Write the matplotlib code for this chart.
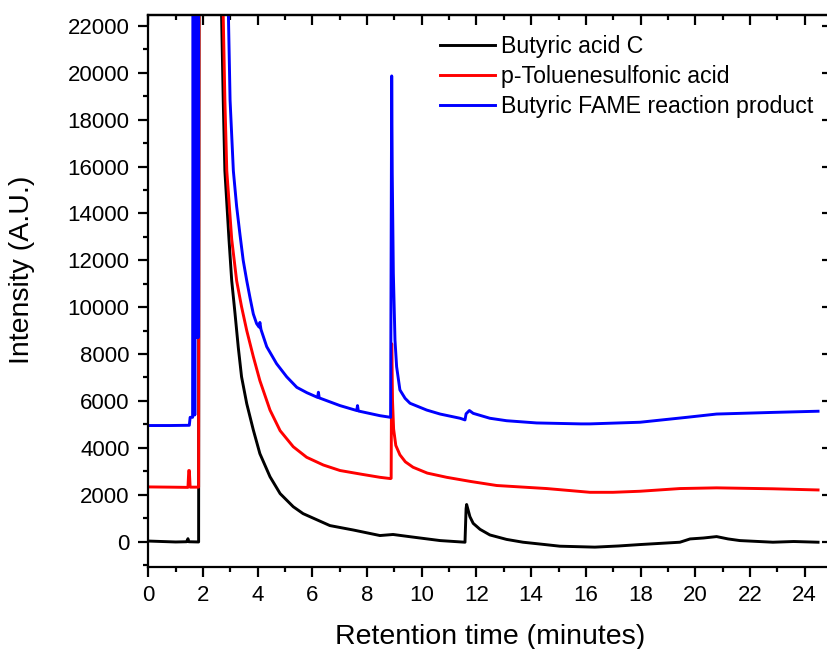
import matplotlib
matplotlib.use("Agg")
import matplotlib.pyplot as plt
from matplotlib.ticker import MultipleLocator

plt.rcParams['font.family'] = ['Liberation Sans', 'DejaVu Sans']

# ---- data ----
OFF = 30000  # off-scale (detector saturation region)

black_x = [0.0, 0.5, 1.0, 1.40, 1.45, 1.48, 1.84, 1.86, 2.55, 2.68, 2.74, 2.80, 2.95, 3.05,
           3.17, 3.29, 3.41, 3.60, 3.84, 4.08, 4.45, 4.82, 5.30, 5.66, 6.64, 7.50, 8.47,
           8.95, 9.6, 10.67, 11.58, 11.62, 11.64, 11.76, 11.88, 12.13, 12.49, 13.10, 13.70,
           14.50, 15.05, 16.33, 17.20, 17.98, 19.00, 19.44, 19.81, 20.30, 20.78, 21.20,
           21.63, 22.84, 23.60, 24.49]
black_y = [20, 0, -20, -10, 120, -10, -20, OFF, OFF, 22430, 18840, 15820, 12900, 11130,
           9740, 8285, 7030, 5880, 4760, 3750, 2765, 2045, 1485, 1190, 680, 490, 255,
           300, 200, 40, -30, 1400, 1580, 1060, 775, 520, 280, 90, -30,
           -130, -200, -240, -190, -130, -60, -30, 110, 150, 210, 110,
           40, -30, 0, -30]

red_x = [0.0, 0.8, 1.45, 1.48, 1.50, 1.53, 1.84, 1.86, 2.62, 2.74, 2.80, 2.87, 3.05, 3.23,
         3.41, 3.60, 3.84, 4.08, 4.45, 4.82, 5.30, 5.79, 6.40, 7.01, 7.80, 8.47, 8.86,
         8.88, 8.90, 8.93, 8.97, 9.05, 9.20, 9.40, 9.68, 10.20, 10.91, 11.80, 12.74,
         14.57, 16.15, 16.99, 17.98, 19.44, 20.78, 22.84, 24.49]
red_y = [2330, 2320, 2310, 3030, 3030, 2320, 2320, OFF, OFF, 22430, 18840, 15820, 12900, 11130,
         10020, 9000, 7890, 6865, 5610, 4730, 4045, 3595, 3265, 3030, 2870, 2740, 2685,
         2700, 8440, 6000, 4800, 4100, 3700, 3400, 3170, 2920, 2740, 2560, 2390,
         2260, 2100, 2100, 2145, 2260, 2290, 2250, 2200]

blue_x = [0.0, 0.8, 1.50, 1.53, 1.62, 1.64, 1.66, 1.68, 1.70, 1.72, 1.74, 1.76, 1.78, 1.80,
          1.82, 1.84, 1.85,
          2.80, 2.93, 2.99, 3.11, 3.23, 3.35, 3.47, 3.60, 3.72, 3.84, 3.96, 4.05, 4.08, 4.12,
          4.33, 4.69, 5.06, 5.43, 5.80, 6.19, 6.22, 6.25, 7.01, 7.62, 7.65, 7.68,
          8.47, 8.86, 8.90, 8.92, 8.96, 9.02, 9.08, 9.20, 9.39, 9.57, 10.18, 10.67, 11.40,
          11.58, 11.62, 11.74, 11.88, 12.49, 13.10, 14.20, 15.81, 16.15, 17.98, 19.69,
          20.78, 22.84, 24.49]
blue_y = [4950, 4950, 4960, 5300, 5300, OFF, 5400, OFF, 5400, OFF, 8700, OFF, 8700, OFF,
          8700, OFF, OFF,
          OFF, 22430, 18840, 15820, 14300, 13120, 12000, 11130, 10400, 9710, 9300, 9150, 9350, 9050,
          8315, 7590, 7030, 6580, 6350, 6150, 6370, 6130, 5800, 5590, 5800, 5570,
          5370, 5300, 19870, 15700, 11450, 8600, 7460, 6470, 6110, 5900, 5610, 5440, 5260,
          5190, 5450, 5590, 5470, 5260, 5155, 5060, 5020, 5020, 5090, 5300,
          5440, 5510, 5560]

labels = ["Butyric acid C", "p-Toluenesulfonic acid", "Butyric FAME reaction product"]
colors = ["#000000", "#ff0000", "#0000ff"]

# ---- figure ----
W, H = 827, 649
fig = plt.figure(figsize=(W / 100, H / 100), dpi=100)
left, right, top, bottom = 148.3, 832.0, 15.0, 566.7
ax = fig.add_axes([left / W, 1 - bottom / H, (right - left) / W, (bottom - top) / H])

for xs, ys, lab, c in zip([black_x, red_x, blue_x], [black_y, red_y, blue_y], labels, colors):
    ax.plot(xs, ys, color=c, lw=2.1, label=lab)

ax.set_xlim(0, 25)
ax.set_ylim(-1075, 22470)

ax.xaxis.set_major_locator(MultipleLocator(2))
ax.xaxis.set_minor_locator(MultipleLocator(1))
ax.yaxis.set_major_locator(MultipleLocator(2000))
ax.yaxis.set_minor_locator(MultipleLocator(1000))

for s in ax.spines.values():
    s.set_linewidth(1.6)

ax.tick_params(which='major', direction='out', length=7.5, width=1.6, labelsize=16, pad=6)
ax.tick_params(which='minor', direction='out', length=3.8, width=1.6)

secx = ax.secondary_xaxis('top')
secx.xaxis.set_major_locator(MultipleLocator(2))
secx.xaxis.set_minor_locator(MultipleLocator(1))
secx.tick_params(which='major', direction='in', length=7.5, width=1.6, labeltop=False)
secx.tick_params(which='minor', direction='in', length=3.8, width=1.6)
secx.spines['top'].set_linewidth(1.6)

secy = ax.secondary_yaxis('right')
secy.yaxis.set_major_locator(MultipleLocator(2000))
secy.yaxis.set_minor_locator(MultipleLocator(1000))
secy.tick_params(which='major', direction='in', length=7.5, width=1.6, labelright=False)
secy.tick_params(which='minor', direction='in', length=3.8, width=1.6)

ax.set_xlabel("Retention time (minutes)", fontsize=20.5)
ax.set_ylabel("Intensity (A.U.)", fontsize=20.5)
ax.xaxis.set_label_coords(0.5, -0.104)
ax.yaxis.set_label_coords(-0.166, 0.538)

ax.legend(loc='upper left', bbox_to_anchor=(440 / W, 1 - 35 / H), bbox_transform=fig.transFigure,
          frameon=False, fontsize=16.7, handlelength=2.35, handletextpad=0.27,
          labelspacing=0.3, borderpad=0, borderaxespad=0)

fig.savefig("out.png", dpi=100)
